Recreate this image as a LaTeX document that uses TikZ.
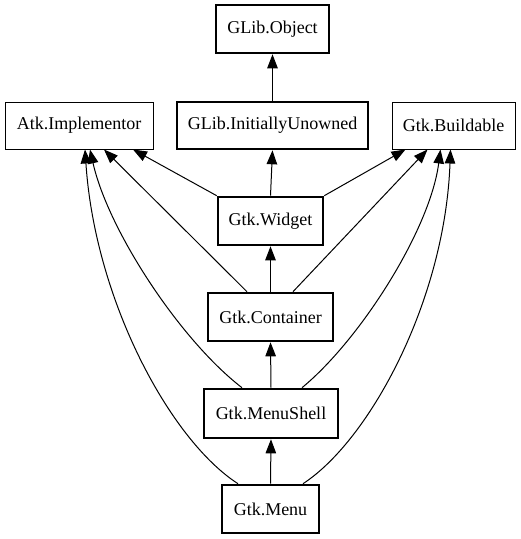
\documentclass[tikz,border=0pt]{standalone}
\usepackage{fontspec}
\setmainfont{Liberation Serif}
\usetikzlibrary{arrows.meta}
\begin{document}
\begin{tikzpicture}[x=1pt,y=-1pt,
  cls/.style={draw, line width=2.6pt, inner sep=0pt, font=\fontsize{18}{20}\selectfont},
  iface/.style={draw, line width=1pt, inner sep=0pt, font=\fontsize{18}{20}\selectfont},
  arr/.style={line width=1pt, -{Triangle[length=14pt,width=10.5pt]}}]
\useasboundingbox (0,0) rectangle (521,539);

% classes and interfaces
\node[cls,  minimum width=113, minimum height=48] (obj)  at (272.5,29)    {GLib.Object};
\node[iface,minimum width=148, minimum height=47] (atk)  at (79,125.5)    {Atk.Implementor};
\node[cls,  minimum width=191, minimum height=47] (iu)   at (272.5,125.5) {GLib.InitiallyUnowned};
\node[iface,minimum width=123, minimum height=47] (bld)  at (453.5,125.5) {Gtk.Buildable};
\node[cls,  minimum width=105, minimum height=48] (wid)  at (270.5,221)   {Gtk.Widget};
\node[cls,  minimum width=125, minimum height=48] (cont) at (270.5,317)   {Gtk.Container};
\node[cls,  minimum width=134, minimum height=49] (ms)   at (271,413.5)   {Gtk.MenuShell};
\node[cls,  minimum width=97,  minimum height=48] (menu) at (270.5,509)   {Gtk.Menu};

% inheritance
\draw[arr] (iu.north) -- (obj.south);
\draw[arr] (wid.north) -- (iu.south);
\draw[arr] (cont.north) -- (wid.south);
\draw[arr] (ms.north) -- (cont.south);
\draw[arr] (menu.north) -- (ms.south);

% implemented interfaces
\draw[arr] (wid.north west) -- ([xshift=54]atk.south);
\draw[arr] (wid.north east) -- ([xshift=-48]bld.south);
\draw[arr] ([xshift=-23.5]cont.north) -- ([xshift=25]atk.south);
\draw[arr] ([xshift=22.5]cont.north) -- ([xshift=-26]bld.south);
\draw[arr] ([xshift=-29]ms.north) .. controls (180,340) and (108,230) .. ([xshift=11]atk.south);
\draw[arr] ([xshift=31]ms.north) .. controls (360,340) and (430,230) .. ([xshift=-13]bld.south);
\draw[arr] ([xshift=-32.5]menu.north) .. controls (170,440) and (95,300) .. ([xshift=6]atk.south);
\draw[arr] ([xshift=32.5]menu.north) .. controls (370,440) and (445,300) .. ([xshift=-3]bld.south);
\end{tikzpicture}
\end{document}
